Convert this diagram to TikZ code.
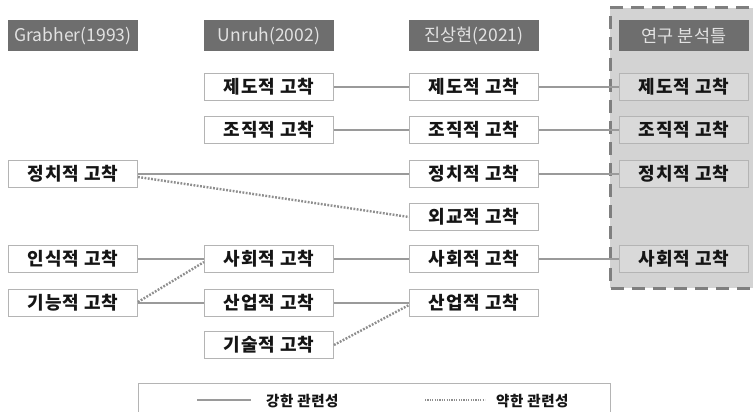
\documentclass[tikz,border=0pt]{standalone}
\usepackage{fontspec}
\setmainfont{Noto Sans CJK KR}
\definecolor{hdrfill}{HTML}{6E6E6E}
\definecolor{hdrtext}{HTML}{E2E2E2}
\definecolor{boxline}{HTML}{B4B4B4}
\definecolor{regionfill}{HTML}{D3D3D3}
\definecolor{regionline}{HTML}{7F7F7F}
\definecolor{graybox}{HTML}{D9D9D9}
\definecolor{conn}{HTML}{9A9A9A}
\definecolor{dotc}{HTML}{8E8E8E}
\definecolor{txt}{HTML}{151515}
\tikzset{
  hdr/.style={fill=hdrfill, draw=none, minimum width=130pt, minimum height=31pt, inner sep=0pt,
    text=hdrtext, font=\fontsize{17.5}{20}\selectfont},
  wbox/.style={fill=white, draw=boxline, line width=1pt, minimum width=129pt, minimum height=27pt, inner sep=0pt,
    text=txt, font=\fontsize{18}{20}\selectfont\bfseries\addfontfeatures{LetterSpace=5}},
  gbox/.style={wbox, fill=graybox},
  strong/.style={draw=conn, line width=1.8pt},
  weak/.style={draw=dotc, line width=2.4pt, dash pattern=on 1.8pt off 1.5pt},
  legtext/.style={text=txt, font=\fontsize{14.5}{16}\selectfont\bfseries\addfontfeatures{LetterSpace=4}, anchor=west, inner sep=0pt}
}
\begin{document}
\begin{tikzpicture}[x=1pt,y=-1pt]
\useasboundingbox (0,0) rectangle (753,412);
\clip (0,0) rectangle (753,412);
\fill[white] (0,0) rectangle (753,412);
% analysis-frame region
\fill[regionfill] (610,8) rectangle (770,288);
\draw[regionline, line width=3pt, dash pattern=on 13pt off 8pt] (770,8) -- (610,8) -- (610,288) -- (770,288);
% headers
\node[hdr] (h1) at (73,36) {Grabher(1993)};
\node[hdr] (h2) at (269,36) {Unruh(2002)};
\node[hdr] (h3) at (474,36) {진상현(2021)};
\node[hdr] (h4) at (684,36) {연구 분석틀};
% Grabher column
\node[wbox] (g3) at (73,174) {정치적 고착};
\node[wbox] (g5) at (73,259) {인식적 고착};
\node[wbox] (g6) at (73,303) {기능적 고착};
% Unruh column
\node[wbox] (u1) at (269,87) {제도적 고착};
\node[wbox] (u2) at (269,130) {조직적 고착};
\node[wbox] (u5) at (269,259) {사회적 고착};
\node[wbox] (u6) at (269,303) {산업적 고착};
\node[wbox] (u7) at (269,345) {기술적 고착};
% Jin column
\node[wbox] (j1) at (474,87) {제도적 고착};
\node[wbox] (j2) at (474,130) {조직적 고착};
\node[wbox] (j3) at (474,174) {정치적 고착};
\node[wbox] (j4) at (474,217) {외교적 고착};
\node[wbox] (j5) at (474,259) {사회적 고착};
\node[wbox] (j6) at (474,303) {산업적 고착};
% research framework column
\node[gbox] (r1) at (684,87) {제도적 고착};
\node[gbox] (r2) at (684,130) {조직적 고착};
\node[gbox] (r3) at (684,174) {정치적 고착};
\node[gbox] (r5) at (684,259) {사회적 고착};
% strong links
\draw[strong] (u1.east) -- (j1.west);
\draw[strong] (j1.east) -- (r1.west);
\draw[strong] (u2.east) -- (j2.west);
\draw[strong] (j2.east) -- (r2.west);
\draw[strong] (g3.east) -- (j3.west);
\draw[strong] (j3.east) -- (r3.west);
\draw[strong] (g5.east) -- (u5.west);
\draw[strong] (u5.east) -- (j5.west);
\draw[strong] (j5.east) -- (r5.west);
\draw[strong] (g6.east) -- (u6.west);
\draw[strong] (u6.east) -- (j6.west);
% weak links
\draw[weak] ([yshift=-3pt]g3.east) -- (j4.west);
\draw[weak] ([yshift=1pt]g6.east) -- ([yshift=-3pt]u5.west);
\draw[weak] (u7.east) -- ([yshift=-2pt]j6.west);
% legend
\node[draw=boxline, line width=1.2pt, fill=white, minimum width=472pt, minimum height=40pt, inner sep=0pt, anchor=north west] (leg) at (138,383) {};
\coordinate (ls1) at (197,400);
\coordinate (ls2) at (251,400);
\coordinate (lw1) at (425,400);
\coordinate (lw2) at (485,400);
\draw[strong, line width=1.5pt] (ls1) -- (ls2);
\draw[weak, line width=1.4pt, dash pattern=on 1.2pt off 1.2pt] (lw1) -- (lw2);
\node[legtext] (lt1) at (266,401) {강한 관련성};
\node[legtext] (lt2) at (496,401) {약한 관련성};
\end{tikzpicture}
\end{document}
